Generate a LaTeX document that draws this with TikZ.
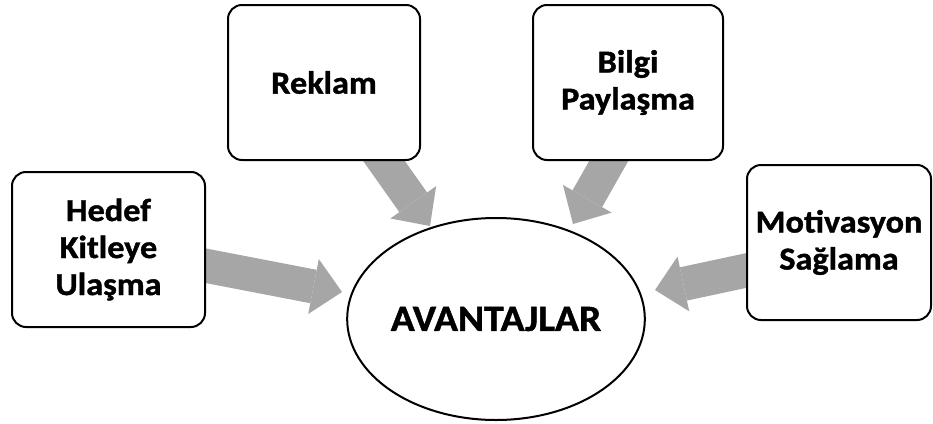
\documentclass[tikz,border=0pt]{standalone}
\usepackage{fontspec}
\setmainfont{Carlito}[FakeStretch=1.07, BoldFeatures={FakeBold=1.2}]
\usetikzlibrary{shapes.geometric,arrows.meta,backgrounds}
\definecolor{arrgray}{HTML}{A6A6A6}
\begin{document}
\begin{tikzpicture}[x=1pt,y=-1pt,
  box/.style={draw=black, line width=2pt, rounded corners=14pt, fill=white, align=center, inner sep=0pt, font=\bfseries\fontsize{32}{37}\selectfont},
  hub/.style={draw=black, line width=2pt, ellipse, fill=white, inner sep=0pt, font=\bfseries\fontsize{37}{44}\selectfont},
  bigarrow/.style={draw=arrgray, line width=34pt, -{Triangle[width=56pt,length=29pt,line width=0pt]}}]
\useasboundingbox (0,0) rectangle (933,423);
\node[box, minimum width=193pt, minimum height=155pt] (hedef) at (108.5,249.5) {Hedef\\Kitleye\\Ulaşma};
\node[box, minimum width=192pt, minimum height=155pt] (reklam) at (324,82.5) {Reklam};
\node[box, minimum width=190pt, minimum height=155pt] (bilgi) at (628,82.5) {Bilgi\\Paylaşma};
\node[box, minimum width=184pt, minimum height=155pt] (motiv) at (839,242.5) {Motivasyon\\Sağlama};
\node[hub, minimum width=296pt, minimum height=202pt] (hub) at (496,319) {AVANTAJLAR};
\coordinate (s1) at (150,255); \coordinate (t1) at (342,292);
\coordinate (s2) at (355,120); \coordinate (t2) at (430,226);
\coordinate (s3) at (632,120); \coordinate (t3) at (573,224);
\coordinate (s4) at (800,259); \coordinate (t4) at (655,290);
\begin{scope}[on background layer]
  \fill[white] (0,0) rectangle (933,423);
  \draw[bigarrow] (s1) -- (t1);
  \draw[bigarrow] (s2) -- (t2);
  \draw[bigarrow] (s3) -- (t3);
  \draw[bigarrow] (s4) -- (t4);
\end{scope}
\end{tikzpicture}
\end{document}
